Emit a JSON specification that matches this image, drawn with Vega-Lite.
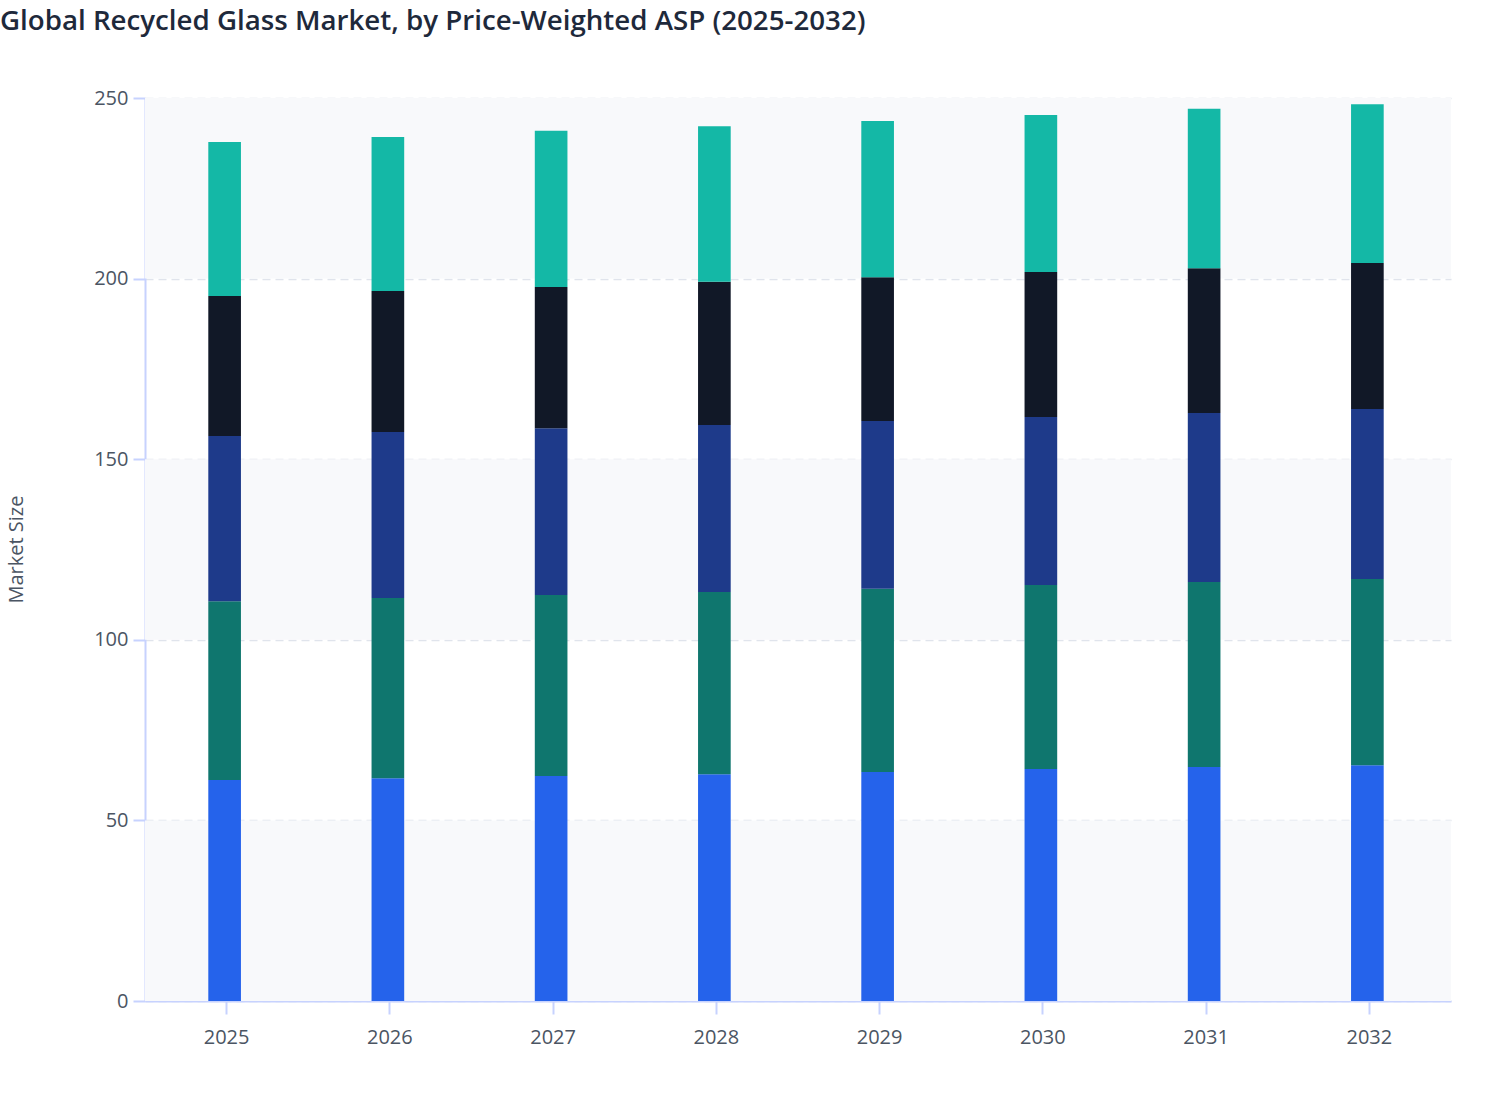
{
  "$schema": "https://vega.github.io/schema/vega-lite/v6.json",
  "autosize": "none",
  "width": 1306,
  "height": 903,
  "padding": {"left": 145, "top": 98, "right": 57, "bottom": 119},
  "background": "white",
  "title": {
    "text": "Global Recycled Glass Market, by Price-Weighted ASP (2025-2032)",
    "anchor": "start",
    "frame": "group",
    "fontSize": 27.7,
    "fontWeight": 600,
    "font": "Open Sans",
    "color": "#1e293b",
    "offset": 52,
    "dx": -145
  },
  "config": {
    "view": {"stroke": null},
    "font": "Open Sans"
  },
  "datasets": {
    "bands": [
      {"lo": 0, "hi": 50},
      {"lo": 100, "hi": 150},
      {"lo": 200, "hi": 250}
    ],
    "market": [
      {"year": "2025", "segment": "Tier 1", "value": 61.2},
      {"year": "2025", "segment": "Tier 2", "value": 49.5},
      {"year": "2025", "segment": "Tier 3", "value": 45.7},
      {"year": "2025", "segment": "Tier 4", "value": 38.8},
      {"year": "2025", "segment": "Tier 5", "value": 42.6},
      {"year": "2026", "segment": "Tier 1", "value": 61.7},
      {"year": "2026", "segment": "Tier 2", "value": 49.9},
      {"year": "2026", "segment": "Tier 3", "value": 45.9},
      {"year": "2026", "segment": "Tier 4", "value": 39.1},
      {"year": "2026", "segment": "Tier 5", "value": 42.6},
      {"year": "2027", "segment": "Tier 1", "value": 62.3},
      {"year": "2027", "segment": "Tier 2", "value": 50.1},
      {"year": "2027", "segment": "Tier 3", "value": 46.2},
      {"year": "2027", "segment": "Tier 4", "value": 39.1},
      {"year": "2027", "segment": "Tier 5", "value": 43.2},
      {"year": "2028", "segment": "Tier 1", "value": 62.8},
      {"year": "2028", "segment": "Tier 2", "value": 50.4},
      {"year": "2028", "segment": "Tier 3", "value": 46.3},
      {"year": "2028", "segment": "Tier 4", "value": 39.6},
      {"year": "2028", "segment": "Tier 5", "value": 43.1},
      {"year": "2029", "segment": "Tier 1", "value": 63.4},
      {"year": "2029", "segment": "Tier 2", "value": 50.7},
      {"year": "2029", "segment": "Tier 3", "value": 46.5},
      {"year": "2029", "segment": "Tier 4", "value": 39.8},
      {"year": "2029", "segment": "Tier 5", "value": 43.2},
      {"year": "2030", "segment": "Tier 1", "value": 64.2},
      {"year": "2030", "segment": "Tier 2", "value": 51.0},
      {"year": "2030", "segment": "Tier 3", "value": 46.5},
      {"year": "2030", "segment": "Tier 4", "value": 40.1},
      {"year": "2030", "segment": "Tier 5", "value": 43.5},
      {"year": "2031", "segment": "Tier 1", "value": 64.8},
      {"year": "2031", "segment": "Tier 2", "value": 51.2},
      {"year": "2031", "segment": "Tier 3", "value": 46.8},
      {"year": "2031", "segment": "Tier 4", "value": 40.1},
      {"year": "2031", "segment": "Tier 5", "value": 44.1},
      {"year": "2032", "segment": "Tier 1", "value": 65.3},
      {"year": "2032", "segment": "Tier 2", "value": 51.5},
      {"year": "2032", "segment": "Tier 3", "value": 47.1},
      {"year": "2032", "segment": "Tier 4", "value": 40.4},
      {"year": "2032", "segment": "Tier 5", "value": 44.0}
    ]
  },
  "layer": [
    {
      "data": {"name": "bands"},
      "mark": {"type": "rect", "color": "#f8f9fb"},
      "encoding": {
        "y": {
          "field": "lo",
          "type": "quantitative",
          "scale": {"domain": [0, 250], "nice": false},
          "axis": {
            "title": "Market Size",
            "titleFontSize": 20,
            "titleFontWeight": "normal",
            "titleColor": "#4b5563",
            "titleAngle": -90,
            "titleAlign": "center",
            "titleBaseline": "middle",
            "titleX": -129,
            "titleY": 451,
            "values": [0, 50, 100, 150, 200, 250],
            "labelFontSize": 20,
            "labelColor": "#4b5563",
            "labelPadding": 5,
            "tickSize": 12,
            "tickColor": "#c7d2fe",
            "tickWidth": 2,
            "domainColor": "#c7d2fe",
            "domainWidth": 2,
            "grid": true,
            "gridColor": "#e0e4ec",
            "gridDash": [8, 5],
            "gridWidth": 1.5
          }
        },
        "y2": {"field": "hi"}
      }
    },
    {
      "data": {"name": "market"},
      "mark": {"type": "bar", "xOffset": -2},
      "encoding": {
        "x": {
          "field": "year",
          "type": "nominal",
          "scale": {"paddingInner": 0.8, "paddingOuter": 0.4},
          "axis": {
            "title": null,
            "labelAngle": 0,
            "labelFontSize": 20,
            "labelColor": "#4b5563",
            "labelPadding": 13,
            "tickSize": 13,
            "tickColor": "#c7d2fe",
            "tickWidth": 2,
            "domainColor": "#c7d2fe",
            "domainWidth": 2,
            "grid": false
          }
        },
        "y": {
          "field": "value",
          "type": "quantitative",
          "aggregate": "sum",
          "stack": "zero",
          "title": "Market Size"
        },
        "color": {
          "field": "segment",
          "type": "nominal",
          "scale": {
            "domain": ["Tier 1", "Tier 2", "Tier 3", "Tier 4", "Tier 5"],
            "range": ["#2563eb", "#0f766e", "#1e3a8a", "#111827", "#14b8a6"]
          },
          "legend": null
        },
        "order": {"field": "segment", "type": "nominal", "sort": "ascending"}
      }
    }
  ]
}
